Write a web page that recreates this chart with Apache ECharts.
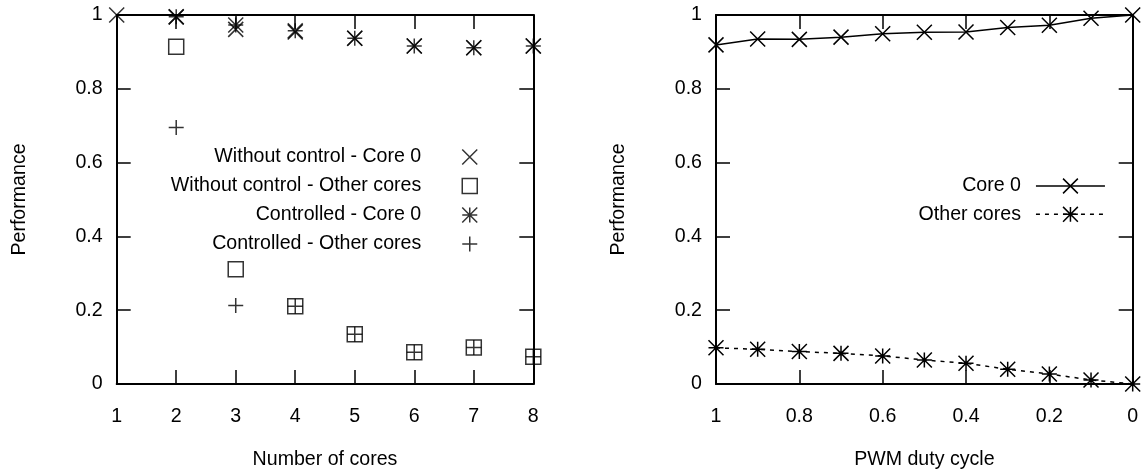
<!DOCTYPE html>
<html>
<head>
<meta charset="utf-8">
<script src="https://cdn.jsdelivr.net/npm/echarts@6/dist/echarts.min.js"></script>
<style>
  html, body { margin: 0; padding: 0; background: #fff; }
  #chart { width: 1146px; height: 473px; }
</style>
</head>
<body>
<div id="chart"></div>
<script>
// Left panel: performance vs number of cores
const cores = [1, 2, 3, 4, 5, 6, 7, 8];
const noCtrlCore0 = [1.0, 0.995, 0.961, 0.954, 0.937, 0.916, 0.911, 0.916];
const noCtrlOther = [null, 0.914, 0.311, 0.211, 0.135, 0.086, 0.099, 0.074];
const ctrlCore0 = [null, 0.995, 0.973, 0.957, 0.937, 0.916, 0.911, 0.916];
const ctrlOther = [null, 0.695, 0.213, 0.211, 0.135, 0.086, 0.099, 0.074];

// Right panel: performance vs PWM duty cycle
const dutyCycle = [1, 0.9, 0.8, 0.7, 0.6, 0.5, 0.4, 0.3, 0.2, 0.1, 0];
const pwmCore0 = [0.919, 0.935, 0.934, 0.940, 0.949, 0.953, 0.954, 0.966, 0.972, 0.991, 1.0];
const pwmOther = [0.098, 0.094, 0.088, 0.083, 0.076, 0.065, 0.056, 0.040, 0.027, 0.011, 0];

const seriesNames = ['Without control - Core 0', 'Without control - Other cores',
                     'Controlled - Core 0', 'Controlled - Other cores'];
const pwmNames = ['Core 0', 'Other cores'];

// gnuplot-like point shapes, stroked only
const SYM_X = 'path://M0,0L10,10M10,0L0,10';
const SYM_SQUARE = 'path://M0,0L10,0L10,10L0,10Z';
const SYM_STAR = 'path://M0,0L10,10M10,0L0,10M5,0L5,10M0,5L10,5';
const SYM_PLUS = 'path://M5,0L5,10M0,5L10,5';

const FONT = '"Liberation Sans", Arial, sans-serif';
const FS = 19.6;
const SYM_SIZE = 15;

function zip(xs, ys) {
  const out = [];
  xs.forEach((x, i) => { if (ys[i] !== null) out.push([x, ys[i]]); });
  return out;
}

const markStyle = { color: 'rgba(0,0,0,0)', borderColor: '#000', borderWidth: 1.5 };

function frameAxis(extra) {
  return Object.assign({
    type: 'value',
    axisLine: { show: true, onZero: false, lineStyle: { color: '#000', width: 2 } },
    axisTick: { show: true, inside: true, length: 14, lineStyle: { color: '#000', width: 1.5 } },
    splitLine: { show: false },
    axisLabel: { show: false }
  }, extra);
}

const labelStyle = { show: true, color: '#000', fontSize: FS, fontFamily: FONT };
const nameStyle = { color: '#000', fontSize: FS, fontFamily: FONT };

const option = {
  animation: false,
  backgroundColor: '#fff',
  grid: [
    { left: 116.7, right: 612.7, top: 15, bottom: 89, outerBoundsMode: 'none', containLabel: false },
    { left: 716, right: 13.3, top: 15, bottom: 89, outerBoundsMode: 'none', containLabel: false }
  ],
  xAxis: [
    frameAxis({ gridIndex: 0, position: 'bottom', min: 1, max: 8, interval: 1,
      axisLabel: Object.assign({ margin: 23 }, labelStyle),
      name: 'Number of cores', nameLocation: 'middle', nameGap: 66, nameTextStyle: nameStyle }),
    frameAxis({ gridIndex: 0, position: 'top', min: 1, max: 8, interval: 1 }),
    frameAxis({ gridIndex: 1, position: 'bottom', min: 0, max: 1, interval: 0.2, inverse: true,
      axisLabel: Object.assign({ margin: 23 }, labelStyle),
      name: 'PWM duty cycle', nameLocation: 'middle', nameGap: 66, nameTextStyle: nameStyle }),
    frameAxis({ gridIndex: 1, position: 'top', min: 0, max: 1, interval: 0.2, inverse: true })
  ],
  yAxis: [
    frameAxis({ gridIndex: 0, position: 'left', min: 0, max: 1, interval: 0.2,
      axisLabel: Object.assign({ margin: 14 }, labelStyle),
      name: 'Performance', nameLocation: 'middle', nameGap: 87, nameTextStyle: nameStyle }),
    frameAxis({ gridIndex: 0, position: 'right', min: 0, max: 1, interval: 0.2 }),
    frameAxis({ gridIndex: 1, position: 'left', min: 0, max: 1, interval: 0.2,
      axisLabel: Object.assign({ margin: 14 }, labelStyle),
      name: 'Performance', nameLocation: 'middle', nameGap: 87, nameTextStyle: nameStyle }),
    frameAxis({ gridIndex: 1, position: 'right', min: 0, max: 1, interval: 0.2 })
  ],
  legend: [
    {
      data: seriesNames, orient: 'vertical', align: 'right',
      right: 668, top: 146.5, padding: 0,
      itemWidth: 15, itemHeight: 15, itemGap: 8, selectedMode: false,
      itemStyle: { borderWidth: 1.5 },
      textStyle: { color: '#000', fontSize: FS, fontFamily: FONT, lineHeight: 21, padding: [0, 36, 0, 0] }
    },
    {
      data: pwmNames, orient: 'vertical', align: 'right',
      right: 40.3, top: 175.5, padding: 0,
      itemWidth: 69, itemHeight: 18.5, itemGap: 7.3, selectedMode: false,
      itemStyle: { borderWidth: 1.5 },
      lineStyle: { width: 1.5 },
      textStyle: { color: '#000', fontSize: FS, fontFamily: FONT, lineHeight: 21, padding: [0, 10, 0, 0] }
    }
  ],
  series: [
    { name: seriesNames[0], type: 'scatter', xAxisIndex: 0, yAxisIndex: 0,
      symbol: SYM_X, symbolSize: SYM_SIZE, itemStyle: markStyle, emphasis: { disabled: true },
      data: zip(cores, noCtrlCore0) },
    { name: seriesNames[1], type: 'scatter', xAxisIndex: 0, yAxisIndex: 0,
      symbol: SYM_SQUARE, symbolSize: SYM_SIZE, itemStyle: markStyle, emphasis: { disabled: true },
      data: zip(cores, noCtrlOther) },
    { name: seriesNames[2], type: 'scatter', xAxisIndex: 0, yAxisIndex: 0,
      symbol: SYM_STAR, symbolSize: SYM_SIZE, itemStyle: markStyle, emphasis: { disabled: true },
      data: zip(cores, ctrlCore0) },
    { name: seriesNames[3], type: 'scatter', xAxisIndex: 0, yAxisIndex: 0,
      symbol: SYM_PLUS, symbolSize: SYM_SIZE, itemStyle: markStyle, emphasis: { disabled: true },
      data: zip(cores, ctrlOther) },
    { name: pwmNames[0], type: 'line', xAxisIndex: 2, yAxisIndex: 2,
      symbol: SYM_X, symbolSize: SYM_SIZE, showAllSymbol: true, itemStyle: markStyle,
      lineStyle: { color: '#000', width: 1.5, type: 'solid' }, emphasis: { disabled: true },
      data: zip(dutyCycle, pwmCore0) },
    { name: pwmNames[1], type: 'line', xAxisIndex: 2, yAxisIndex: 2,
      symbol: SYM_STAR, symbolSize: SYM_SIZE, showAllSymbol: true, itemStyle: markStyle,
      lineStyle: { color: '#000', width: 1.5, type: [4, 5] }, emphasis: { disabled: true },
      data: zip(dutyCycle, pwmOther) }
  ]
};

const chart = echarts.init(document.getElementById('chart'), null, { renderer: 'canvas' });
chart.setOption(option);
</script>
</body>
</html>
